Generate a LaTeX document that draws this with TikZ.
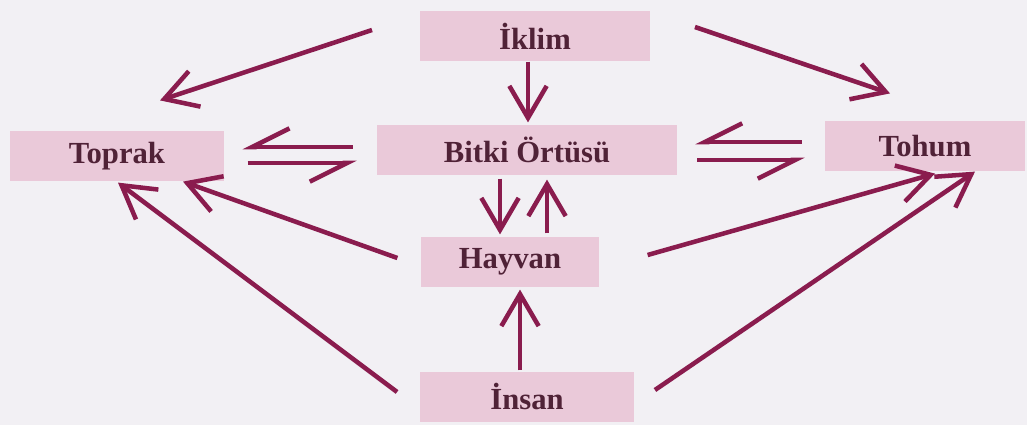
\documentclass[tikz,border=0pt]{standalone}
\usepackage{fontspec}
\setmainfont{Liberation Serif}
\usetikzlibrary{arrows.meta, calc}

\definecolor{bgcol}{RGB}{242,240,244}
\definecolor{boxpink}{RGB}{234,201,217}
\definecolor{linkcol}{RGB}{138,28,78}
\definecolor{labelcol}{RGB}{80,34,55}

\begin{document}
\begin{tikzpicture}[
	x=0.75pt, y=-0.75pt,
	font=\bfseries\fontsize{23}{26}\selectfont,
	% Define styles
	topic/.style={rectangle, fill=boxpink, text=labelcol, minimum height=38pt, inner sep=2pt},
	link/.style={-{Straight Barb[length=24pt, width=28pt]}, line width=3.4pt, linkcol},
	twoway/.style={-{Straight Barb[length=28pt, width=28pt, harpoon, swap]}, line width=3.4pt, linkcol}
	]
	
	% Background
	\fill[bgcol] (0,0) rectangle (1027,425);
	
	% 1. Topics
	\node[topic, minimum width=172pt] (iklim) at (535,36) {İklim};
	\node[topic, minimum width=225pt] (bitki) at (527,150) {Bitki Örtüsü};
	\node[topic, minimum width=161pt] (toprak) at (117,156) {Toprak};
	\node[topic, minimum width=150pt] (tohum) at (925,146) {Tohum};
	\node[topic, minimum width=134pt] (hayvan) at (510,262) {Hayvan};
	\node[topic, minimum width=160pt] (insan) at (527,397) {İnsan};
	
	% 2. From climate
	\draw[link] ($(iklim.west)+(-48,-6)$) -- ($(toprak.north)+(43,-30)$);
	\draw[link] ($(iklim.east)+(45,-9)$) -- ($(tohum.north)+(-35,-27)$);
	\draw[link] ($(iklim.south)+(-7,0)$) -- ($(bitki.north)+(1,-2)$);
	
	% Two-way links with plant cover
	\draw[twoway] ($(bitki.west)+(-24,-3)$) -- ($(toprak.east)+(18,-9)$);
	\draw[twoway] ($(toprak.east)+(23,7)$) -- ($(bitki.west)+(-20,13)$);
	\draw[twoway] ($(tohum.west)+(-23,-4)$) -- ($(bitki.east)+(18,-8)$);
	\draw[twoway] ($(bitki.east)+(20,10)$) -- ($(tohum.west)+(-20,14)$);
	
	% 3. Plant cover and animals
	\draw[link] ($(bitki.south)+(-27,3)$) -- ($(hayvan.north)+(-10,-2)$);
	\draw[link] ($(hayvan.north)+(37,-3)$) -- ($(bitki.south)+(20,4)$);
	\draw[link] ($(insan.north)+(-7,-1)$) -- ($(hayvan.south)+(10,2)$);
	
	% 4. Animals and people to soil and seed
	\draw[link] ($(hayvan.west)+(-23,-4)$) -- ($(toprak.south)+(66,0)$);
	\draw[link] ($(insan.west)+(-23,-5)$) -- ($(toprak.south)+(1,1)$);
	\draw[link] ($(hayvan.east)+(48,-7)$) -- ($(tohum.south)+(10,2)$);
	\draw[link] ($(insan.east)+(21,-7)$) -- ($(tohum.south)+(50,0)$);
\end{tikzpicture}
\end{document}
